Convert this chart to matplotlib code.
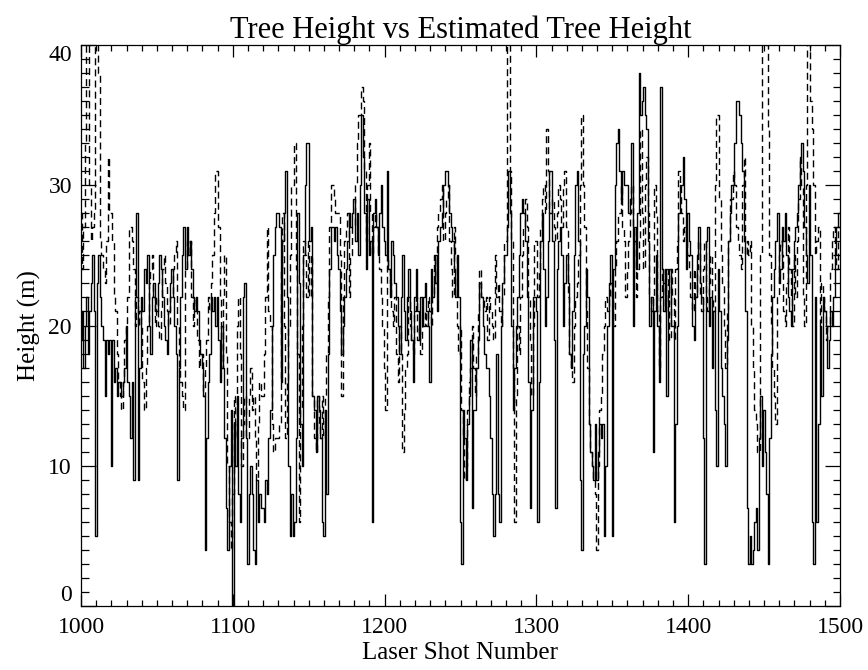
import numpy as np
import matplotlib
matplotlib.use("Agg")
import matplotlib.pyplot as plt

shots = np.arange(1000, 1501)

# Tree height (solid), one value per laser shot
tree_height = [
    19, 21, 17, 20, 22, 18, 21, 23, 25, 21,
    5, 23, 25, 22, 20, 19, 15, 19, 18, 19,
    10, 19, 16, 17, 15, 16, 16, 15, 16, 17,
    20, 16, 15, 12, 16, 9, 22, 28, 9, 17,
    22, 21, 24, 23, 25, 20, 18, 22, 23, 21,
    21, 23, 25, 24, 22, 20, 19, 18, 21, 23,
    24, 22, 20, 18, 9, 17, 22, 25, 27, 24,
    27, 25, 26, 24, 22, 21, 22, 21, 19, 18,
    17, 15, 4, 12, 16, 18, 22, 21, 22, 20,
    22, 19, 16, 20, 17, 12, 7, 4, 10, 14,
    0, 13, 10, 15, 8, 6, 12, 22, 23, 12,
    3, 8, 10, 8, 4, 3, 9, 6, 8, 7,
    7, 6, 9, 8, 12, 14, 20, 25, 27, 28,
    28, 27, 16, 26, 28, 31, 22, 10, 5, 8,
    5, 6, 12, 28, 23, 13, 10, 25, 30, 33,
    33, 26, 27, 15, 14, 11, 15, 14, 12, 6,
    5, 14, 8, 18, 24, 27, 27, 26, 27, 25,
    24, 21, 18, 20, 22, 24, 26, 28, 27, 28,
    29, 26, 28, 25, 30, 35, 32, 28, 24, 29,
    25, 26, 6, 28, 29, 27, 25, 28, 30, 27,
    26, 25, 31, 24, 22, 26, 25, 23, 22, 20,
    18, 22, 25, 21, 19, 22, 24, 21, 19, 16,
    22, 24, 21, 19, 22, 20, 22, 23, 21, 20,
    16, 24, 22, 23, 25, 21, 26, 27, 28, 30,
    31, 31, 30, 28, 27, 26, 24, 22, 25, 22,
    6, 3, 14, 12, 9, 13, 15, 19, 7, 14,
    14, 17, 19, 23, 22, 20, 18, 17, 17, 15,
    12, 8, 5, 8, 18, 8, 6, 20, 23, 25,
    25, 27, 31, 28, 20, 14, 17, 20, 22, 25,
    28, 29, 28, 26, 22, 16, 7, 14, 22, 22,
    21, 6, 16, 26, 28, 24, 20, 22, 26, 31,
    31, 26, 19, 7, 24, 26, 27, 25, 20, 23,
    25, 23, 18, 17, 21, 25, 30, 31, 26, 9,
    4, 18, 20, 24, 22, 13, 11, 10, 9, 13,
    9, 11, 13, 12, 13, 5, 10, 20, 23, 25,
    5, 24, 30, 33, 34, 31, 29, 31, 30, 30,
    30, 28, 29, 33, 20, 27, 24, 28, 38, 35,
    36, 37, 35, 34, 26, 20, 22, 11, 21, 25,
    20, 16, 37, 24, 21, 24, 15, 22, 24, 20,
    20, 6, 13, 20, 28, 30, 30, 32, 29, 24,
    28, 26, 25, 20, 19, 22, 25, 27, 23, 22,
    12, 3, 26, 27, 20, 22, 17, 21, 14, 10,
    24, 21, 17, 15, 13, 10, 19, 26, 28, 30,
    30, 33, 36, 36, 35, 33, 31, 26, 21, 7,
    3, 5, 3, 4, 6, 7, 4, 12, 15, 10,
    14, 11, 8, 3, 12, 18, 22, 24, 26, 28,
    23, 24, 27, 26, 28, 25, 22, 21, 20, 24,
    26, 27, 28, 30, 32, 33, 31, 27, 25, 23,
    30, 25, 6, 3, 22, 6, 13, 20, 15, 22,
    21, 20, 17, 19, 21, 20, 22, 25, 27, 28,
    28,
]

# Estimated tree height (dashed), one value per laser shot
est_height = [
    28, 24, 27, 33, 42, 42, 30, 26, 27, 28,
    42, 42, 38, 26, 25, 24, 23, 26, 32, 28,
    28, 26, 22, 21, 18, 16, 15, 14, 16, 19,
    20, 22, 27, 27, 26, 24, 20, 22, 20, 21,
    20, 16, 14, 17, 20, 23, 24, 25, 22, 20,
    22, 20, 19, 21, 24, 25, 23, 21, 20, 22,
    22, 24, 25, 26, 20, 17, 16, 15, 14, 24,
    26, 25, 26, 22, 20, 22, 21, 19, 17, 18,
    18, 15, 17, 19, 22, 21, 23, 25, 28, 31,
    31, 27, 22, 17, 22, 25, 18, 10, 6, 4,
    8, 15, 12, 20, 22, 18, 10, 13, 15, 12,
    12, 15, 17, 14, 15, 12, 9, 13, 16, 15,
    15, 18, 22, 27, 21, 20, 13, 11, 12, 12,
    12, 13, 24, 28, 20, 12, 16, 20, 25, 30,
    30, 33, 24, 18, 6, 14, 20, 26, 25, 22,
    26, 22, 25, 15, 12, 11, 15, 13, 12, 15,
    12, 15, 18, 22, 27, 30, 30, 29, 28, 28,
    28, 25, 15, 22, 26, 27, 28, 22, 25, 27,
    27, 30, 33, 35, 35, 37, 36, 31, 26, 30,
    33, 28, 25, 27, 28, 27, 25, 24, 22, 20,
    17, 14, 25, 24, 23, 21, 20, 22, 18, 16,
    20, 18, 11, 14, 17, 18, 22, 20, 19, 18,
    21, 22, 19, 20, 18, 20, 20, 21, 20, 22,
    21, 20, 22, 25, 23, 27, 28, 29, 30, 26,
    28, 29, 30, 26, 24, 22, 27, 25, 20, 18,
    20, 14, 12, 9, 10, 14, 16, 17, 20, 17,
    15, 18, 21, 24, 22, 22, 21, 22, 19, 22,
    21, 20, 19, 25, 22, 23, 21, 20, 22, 26,
    26, 42, 42, 31, 26, 17, 6, 15, 20, 18,
    22, 25, 27, 29, 27, 22, 19, 15, 20, 26,
    26, 22, 24, 27, 29, 30, 28, 34, 31, 28,
    28, 29, 27, 26, 28, 30, 29, 27, 30, 31,
    27, 22, 18, 17, 16, 20, 22, 23, 25, 30,
    35, 30, 27, 21, 17, 13, 11, 10, 9, 8,
    4, 10, 14, 15, 18, 20, 22, 21, 22, 23,
    22, 20, 24, 26, 28, 28, 30, 27, 26, 22,
    24, 26, 28, 30, 27, 26, 22, 24, 26, 34,
    28, 24, 30, 32, 28, 22, 21, 22, 30, 28,
    21, 17, 22, 24, 23, 21, 24, 22, 19, 24,
    22, 19, 24, 26, 31, 30, 28, 26, 27, 26,
    25, 24, 22, 21, 24, 22, 24, 26, 22, 21,
    24, 26, 22, 21, 23, 25, 22, 21, 30, 35,
    35, 29, 25, 23, 20, 17, 21, 26, 29, 29,
    31, 30, 27, 26, 25, 24, 30, 32, 25, 26,
    25, 26, 20, 17, 14, 13, 11, 11, 25, 42,
    42, 42, 40, 34, 25, 20, 17, 15, 13, 22,
    25, 26, 25, 21, 20, 23, 27, 24, 22, 20,
    25, 22, 26, 29, 32, 30, 22, 20, 30, 42,
    42, 36, 34, 30, 25, 26, 27, 20, 23, 22,
    21, 19, 20, 20, 24, 26, 27, 25, 24, 27,
    27,
]

x_ticks = [1000, 1100, 1200, 1300, 1400, 1500]
y_ticks = [0, 10, 20, 30, 40]

plt.rcParams['font.family'] = ['Liberation Serif', 'DejaVu Serif']

fig = plt.figure(figsize=(8.68, 6.70), dpi=100)
ax = fig.add_axes([81 / 868, 1 - 606 / 670, (840 - 81) / 868, (606 - 45) / 670])

ax.plot(shots, tree_height, color='black', lw=1.0, drawstyle='steps-mid')
ax.plot(shots, est_height, color='black', lw=1.0, drawstyle='steps-mid',
        linestyle=(0, (5, 3)))

ax.set_xlim(1000, 1500)
ax.set_ylim(0, 40)
ax.set_xticks(x_ticks)
ax.set_yticks(y_ticks)
ax.set_xticks(np.arange(1000, 1501, 10), minor=True)
ax.set_yticks(np.arange(0, 41, 1), minor=True)
ax.tick_params(which='both', direction='in', top=True, right=True,
               width=0.9, labelsize=17)
ax.tick_params(axis='x', which='major', length=8.6, pad=8)
ax.tick_params(axis='x', which='minor', length=4.3)
ax.tick_params(axis='y', which='major', length=10.8, pad=6.5)
ax.tick_params(axis='y', which='minor', length=5.4)
for sp in ax.spines.values():
    sp.set_linewidth(0.9)

for t, v in zip(ax.yaxis.get_major_ticks(), y_ticks):
    if v == 0:
        t.label1.set_va('bottom')
    elif v == 40:
        t.label1.set_va('top')

ax.set_title('Tree Height vs Estimated Tree Height', fontsize=22, pad=5)
ax.set_xlabel('Laser Shot Number', fontsize=18, labelpad=3)
ax.set_ylabel('Height (m)', fontsize=18, labelpad=5)

fig.savefig('out.png', dpi=100)
